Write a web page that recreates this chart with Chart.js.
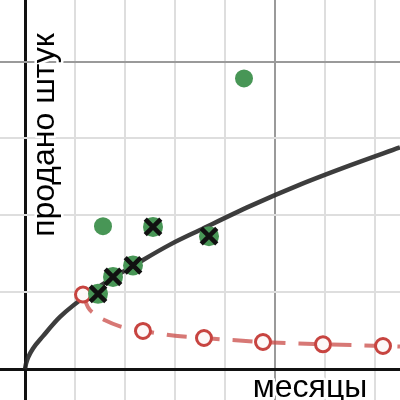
<!DOCTYPE html>
<html>
<head>
<meta charset="utf-8">
<script src="https://cdn.jsdelivr.net/npm/chart.js@4"></script>
<style>
  html, body { margin: 0; padding: 0; background: #fff; }
  #wrap { width: 400px; height: 400px; }
</style>
</head>
<body>
<div id="wrap"><canvas id="salesChart" width="400" height="400"></canvas></div>
<script>
// months on x, sold units on y
var curveX = [0, 0.1, 0.3, 0.8, 1.8, 3.5, 6.8, 11.8, 14.5, 17.5, 22.5, 27.5, 32.5, 37.5];
var curveY = [0, 0.35, 0.75, 1.35, 2.15, 3.4, 5.1, 7.1, 8.1, 9.05, 10.6, 12.0, 13.25, 14.42];

var dotX = [7.8, 21.9];
var dotY = [9.3, 18.9];

var crossX = [7.3, 8.8, 10.8, 12.8, 18.4];
var crossY = [4.9, 6.0, 6.75, 9.25, 8.65];

var ringX = [5.8, 11.8, 17.9, 23.8, 29.8, 35.8];
var ringY = [4.85, 2.49, 2.03, 1.77, 1.62, 1.51];

var dashX = [5.8, 6.3, 7.0, 8.0, 9.5, 11.8, 15.0, 17.9, 23.8, 29.8, 35.8, 37.5];
var dashY = [4.85, 4.03, 3.57, 3.18, 2.79, 2.49, 2.18, 2.03, 1.77, 1.62, 1.51, 1.47];

var xTicks = [0, 5, 10, 15, 20, 25, 30, 35];
var yTicks = [0, 5, 10, 15, 20];

var xTitle = 'месяцы';
var yTitle = 'продано штук';

function pts(xs, ys) {
    return xs.map((x, i) => ({ x: x, y: ys[i] }));
}

var green = 'rgb(72,150,86)';
var red = '#c74440';

function gridColor(major) {
    return (c) => {
        var v = c.tick.value;
        if (v === 0) return '#111';
        if (v === major) return '#9a9a9a';
        return '#dedede';
    }
}
function gridWidth(c) {
    return c.tick.value === 0 ? 3 : 2;
}

var titles = {
    id: 'titles',
    beforeDatasetsDraw(chart) {
        var ctx = chart.ctx;
        ctx.save();
        ctx.font = '32px "Liberation Sans", Arial, sans-serif';
        ctx.textAlign = 'center';
        ctx.textBaseline = 'alphabetic';
        ctx.lineJoin = 'round';
        ctx.strokeStyle = '#fff';
        ctx.lineWidth = 5;
        ctx.fillStyle = '#000';
        ctx.strokeText(xTitle, 310, 397);
        ctx.fillText(xTitle, 310, 397);
        ctx.translate(54, 135);
        ctx.rotate(-Math.PI / 2);
        ctx.strokeText(yTitle, 0, 0);
        ctx.fillText(yTitle, 0, 0);
        ctx.restore();
    }
};

var ctx = document.getElementById('salesChart').getContext('2d');
var chart = new Chart(ctx, {
    type: 'scatter',
    data: {
        datasets: [{
            data: pts(crossX, crossY),
            pointStyle: 'crossRot',
            pointRadius: 11,
            borderColor: '#111',
            pointBorderWidth: 4.5,
            showLine: false
        }, {
            data: pts(crossX, crossY),
            pointRadius: 10,
            backgroundColor: green,
            borderWidth: 0,
            pointBorderWidth: 0,
            showLine: false
        }, {
            data: pts(ringX, ringY),
            pointRadius: 7.5,
            backgroundColor: '#fdf8f8',
            borderColor: red,
            pointBorderWidth: 3,
            showLine: false
        }, {
            data: pts(dashX, dashY),
            showLine: true,
            pointRadius: 0,
            borderColor: 'rgba(199,68,64,0.72)',
            borderWidth: 4,
            borderDash: [20, 13],
            cubicInterpolationMode: 'monotone'
        }, {
            data: pts(curveX, curveY),
            showLine: true,
            pointRadius: 0,
            borderColor: 'rgba(40,40,40,0.9)',
            borderWidth: 4.5,
            cubicInterpolationMode: 'monotone'
        }, {
            data: pts(dotX, dotY),
            pointRadius: 9,
            backgroundColor: green,
            pointBorderWidth: 0,
            showLine: false
        }]
    },
    options: {
        responsive: false,
        animation: false,
        layout: { padding: 0, autoPadding: false },
        plugins: { legend: { display: false }, tooltip: { enabled: false } },
        scales: {
            x: {
                type: 'linear',
                min: -2.5,
                max: 37.5,
                border: { display: false },
                ticks: { display: false, padding: 0 },
                grid: { drawTicks: false, tickLength: 0, color: gridColor(25), lineWidth: gridWidth },
                afterBuildTicks: (s) => { s.ticks = xTicks.map(v => ({ value: v })); },
                afterFit: (s) => { s.height = 0; }
            },
            y: {
                type: 'linear',
                min: -2,
                max: 24,
                border: { display: false },
                ticks: { display: false, padding: 0 },
                grid: { drawTicks: false, tickLength: 0, color: gridColor(20), lineWidth: gridWidth },
                afterBuildTicks: (s) => { s.ticks = yTicks.map(v => ({ value: v })); },
                afterFit: (s) => { s.width = 0; }
            }
        }
    },
    plugins: [titles]
});
</script>
</body>
</html>
